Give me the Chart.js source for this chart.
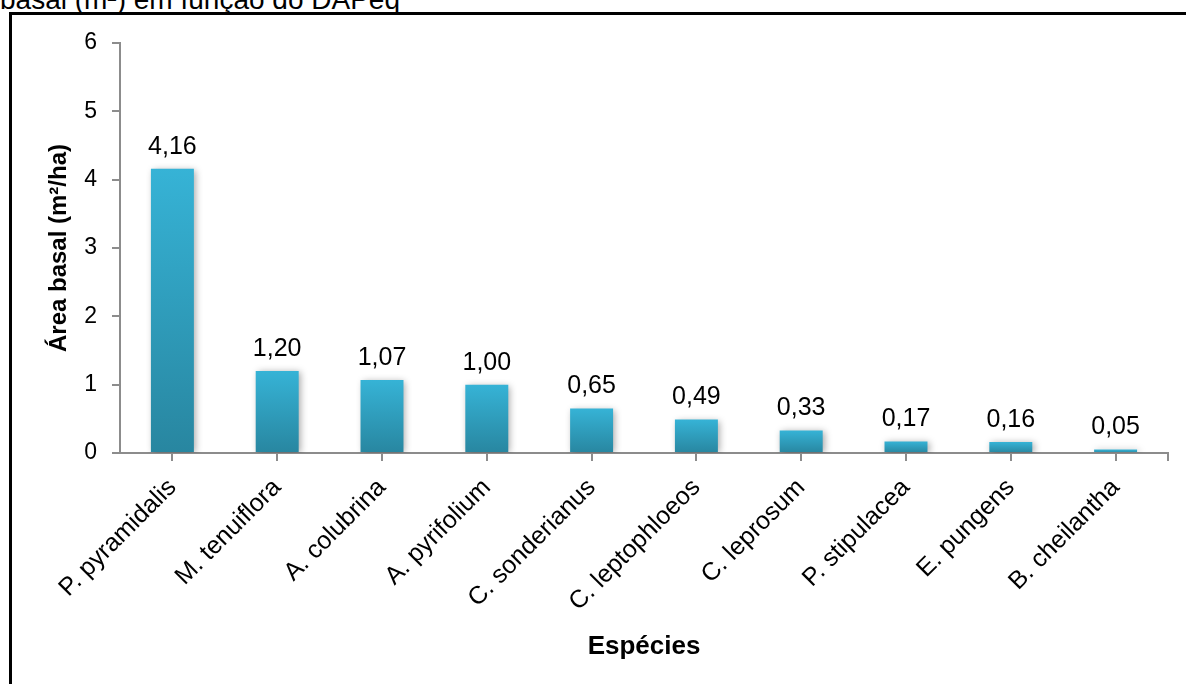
<!DOCTYPE html>
<html>
<head>
<meta charset="utf-8">
<script src="https://cdn.jsdelivr.net/npm/chart.js@4"></script>
<style>
  body { margin: 0; background: #fff; overflow: hidden; }
  #wrap { position: relative; width: 1186px; height: 684px; overflow: hidden; }
  #chart { position: absolute; left: 0; top: 0; }
  #frame { position: absolute; left: 9px; top: 12px; width: 1300px; height: 800px; border: 3px solid #000; box-sizing: border-box; }
  #caption { position: absolute; left: 0; top: -14px; font: 28px "Liberation Sans", Arial, sans-serif; line-height: 28px; white-space: nowrap; color: #000; }
</style>
</head>
<body>
<div id="wrap">
  <div id="caption">basal (m²) em função do DAPeq</div>
  <div id="frame"></div>
  <canvas id="chart" width="1186" height="684"></canvas>
</div>
<script>
const especies = ["P. pyramidalis", "M. tenuiflora", "A. colubrina", "A. pyrifolium", "C. sonderianus",
  "C. leptophloeos", "C. leprosum", "P. stipulacea", "E. pungens", "B. cheilantha"];
const areaBasal = [4.16, 1.20, 1.07, 1.00, 0.65, 0.49, 0.33, 0.17, 0.16, 0.05];
const yTicks = [0, 1, 2, 3, 4, 5, 6];

const fontFamily = '"Liberation Sans", Arial, sans-serif';
const axisGrey = '#8c8c8c';

// gradient per bar, light at the top, darker at the base
function barGradient(ctx) {
  const chart = ctx.chart;
  if (!chart.chartArea || ctx.dataIndex === undefined) return '#33aed0';
  const y = chart.scales.y;
  const top = y.getPixelForValue(ctx.raw);
  const base = y.getPixelForValue(0);
  const g = chart.ctx.createLinearGradient(0, top, 0, base);
  g.addColorStop(0, '#36b3d6');
  g.addColorStop(1, '#2886a0');
  return g;
}

const barShadow = {
  id: 'barShadow',
  beforeDatasetsDraw(chart) {
    const c = chart.ctx;
    c.save();
    c.shadowColor = 'rgba(0,0,0,0.35)';
    c.shadowBlur = 7;
    c.shadowOffsetX = 2;
    c.shadowOffsetY = 1;
  },
  afterDatasetsDraw(chart) {
    chart.ctx.restore();
  }
};

const valueLabels = {
  id: 'valueLabels',
  afterDatasetsDraw(chart) {
    const c = chart.ctx;
    const meta = chart.getDatasetMeta(0);
    c.save();
    c.font = '25px ' + fontFamily;
    c.fillStyle = '#000';
    c.textAlign = 'center';
    c.textBaseline = 'middle';
    meta.data.forEach((bar, i) => {
      const txt = areaBasal[i].toFixed(2).replace('.', ',');
      c.fillText(txt, bar.x, bar.y - 22);
    });
    c.restore();
  }
};

// small closing tick at the right end of the category axis
const axisEndTick = {
  id: 'axisEndTick',
  afterDraw(chart) {
    const c = chart.ctx;
    const a = chart.chartArea;
    c.save();
    c.strokeStyle = axisGrey;
    c.lineWidth = 2;
    c.beginPath();
    c.moveTo(a.right, a.bottom);
    c.lineTo(a.right, a.bottom + 8);
    c.stroke();
    c.restore();
  }
};

new Chart(document.getElementById('chart'), {
  type: 'bar',
  data: {
    labels: especies,
    datasets: [{
      data: areaBasal,
      backgroundColor: barGradient,
      borderWidth: 0,
      categoryPercentage: 1,
      barPercentage: 0.41
    }]
  },
  options: {
    responsive: false,
    animation: false,
    layout: { padding: { top: 43, right: 18, left: 0, bottom: 0 } },
    plugins: {
      legend: { display: false },
      tooltip: { enabled: false }
    },
    scales: {
      x: {
        grid: { drawOnChartArea: false, offset: false, tickLength: 8, color: axisGrey, lineWidth: 2 },
        border: { color: axisGrey, width: 2 },
        ticks: {
          autoSkip: false, maxRotation: 45, minRotation: 45, padding: 12,
          color: '#000', font: { family: fontFamily, size: 25 }
        },
        title: {
          display: true, text: 'Espécies', color: '#000',
          font: { family: fontFamily, size: 26, weight: 'bold' },
          padding: { top: 0, bottom: 22 }
        },
        afterFit(scale) { scale.height = 231; }
      },
      y: {
        min: 0, max: 6,
        afterBuildTicks(scale) { scale.ticks = yTicks.map(v => ({ value: v })); },
        grid: { drawOnChartArea: false, tickLength: 8, color: axisGrey, lineWidth: 2 },
        border: { color: axisGrey, width: 2 },
        ticks: {
          padding: 15, color: '#000', font: { family: fontFamily, size: 23 },
          callback: v => String(v)
        },
        title: {
          display: true, text: 'Área basal (m²/ha)', color: '#000',
          font: { family: fontFamily, size: 24, weight: 'bold' },
          padding: { top: 45, bottom: 0 }
        },
        afterFit(scale) { scale.width = 120; }
      }
    }
  },
  plugins: [barShadow, valueLabels, axisEndTick]
});
</script>
</body>
</html>
